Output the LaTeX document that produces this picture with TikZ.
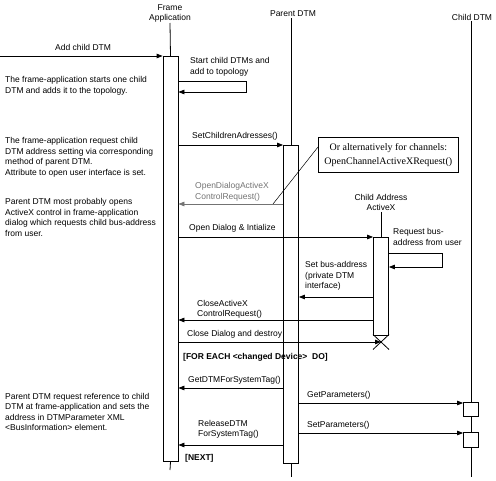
\documentclass[tikz,border=0pt]{standalone}
\usepackage{fontspec}
\setmainfont{Liberation Sans}
\newfontfamily\notefont{Liberation Serif}
\usetikzlibrary{arrows.meta}

\tikzset{
  lifeline/.style={line width=0.8pt},
  actbox/.style={draw, fill=white, line width=0.8pt, minimum width=15pt, inner sep=0pt, anchor=north},
  msg/.style={line width=0.8pt, -{Triangle[length=6pt,width=4.5pt]}},
  head/.style={font=\fontsize{8.5}{10}\selectfont, align=center, inner sep=1pt},
  lbl/.style={font=\fontsize{8.5}{10.5}\selectfont, align=left, inner sep=0pt, anchor=west},
  loopword/.style={font=\bfseries\fontsize{8.5}{10}\selectfont, inner sep=0pt, anchor=west},
  notebox/.style={draw, line width=0.6pt, font=\notefont\fontsize{10}{14.5}\selectfont, align=center,
    minimum width=140pt, minimum height=35pt, inner sep=0pt, anchor=north west}
}

\begin{document}
\begin{tikzpicture}[x=1pt,y=-1pt]
\useasboundingbox (0,0) rectangle (496,481);

% lifeline heads
\node[head] (faHead) at (170,13) {Frame\\Application};
\node[head] (pdHead) at (293,14) {Parent DTM};
\node[head] (cdHead) at (472,17) {Child DTM};
\node[head] (axHead) at (381,202.5) {Child Address\\ActiveX};

% activations
\node[actbox, minimum height=405pt] (faBox) at (170.5,56) {};
\node[actbox, minimum height=318pt] (pdBox) at (291,145) {};
\node[actbox, minimum height=98pt] (axBox) at (381,237) {};

\coordinate (faEnd) at (170,470);
\coordinate (pdEnd) at (291,477);
\coordinate (cdEnd) at (471,477);
\coordinate (start) at (0,56);

\draw[lifeline] (faHead.south -| 170,0) -- (faBox.north);
\draw[lifeline] (faBox.south) -- (faEnd);
\draw[lifeline] (pdBox.north |- pdHead.south) -- (pdBox.north);
\draw[lifeline] (pdBox.south) -- (pdEnd);
\draw[lifeline] (cdEnd |- cdHead.south) -- (cdEnd);
\draw[lifeline] (axHead.south) -- (axBox.north);
\node[actbox, minimum height=14pt] (cdBoxA) at (471,402) {};
\node[actbox, minimum height=15pt] (cdBoxB) at (471,432) {};

% destroy mark
\coordinate (axEnd) at (381,342);
\draw[line width=0.8pt] ([shift={(-8pt,-7.5pt)}]axEnd) -- ([shift={(8pt,7.5pt)}]axEnd);
\draw[line width=0.8pt] ([shift={(8pt,-7.5pt)}]axEnd) -- ([shift={(-8pt,7.5pt)}]axEnd);

% note
\node[notebox] (noteBox) at (318,137) {Or alternatively for channels:\\OpenChannelActiveXRequest()};
\coordinate (openDlgPt) at (273,204);
\draw[line width=0.5pt] ([yshift=-10pt]noteBox.north west) -- (openDlgPt);

% messages
\draw[msg] (start) -- (faBox.north west);
\draw[msg] (faBox.east |- 0,81) -- ++(68,0) -- ++(0,11) -- (faBox.east |- 0,92);
\draw[msg] (faBox.east |- 0,145) -- (pdBox.north west);
\draw[msg, draw=black!55] (pdBox.west |- 0,204) -- (faBox.east |- 0,204);
\draw[msg] (faBox.east |- 0,237) -- (axBox.north west);
\draw[msg] (axBox.east |- 0,253) -- ++(53,0) -- ++(0,14) -- (axBox.east |- 0,267);
\draw[msg] (axBox.west |- 0,297) -- (pdBox.east |- 0,297);
\draw[msg] (axBox.west |- 0,320) -- (faBox.east |- 0,320);
\draw[msg] (faBox.east |- axEnd) -- (axEnd);
\draw[msg] (pdBox.west |- 0,388) -- (faBox.east |- 0,388);
\draw[msg] (pdBox.east |- cdBoxA.north) ++(0,1) -- ([yshift=-1pt]cdBoxA.north west);
\draw[msg] (pdBox.east |- cdBoxB.north) ++(0,1) -- ([yshift=-1pt]cdBoxB.north west);
\draw[msg] (pdBox.west |- 0,445) -- (faBox.east |- 0,445);

% message labels
\node[lbl] (addLbl) at (55,47) {Add child DTM};
\node[lbl] (startLbl) at (190,67) {Start child DTMs and\\add to topology};
\node[lbl] (setLbl) at (192,136) {SetChildrenAdresses()};
\node[lbl, text=black!55] (openLbl) at (195,192) {OpenDialogActiveX\\ControlRequest()};
\node[lbl] (initLbl) at (189,228) {Open Dialog \& Intialize};
\node[lbl] (reqLbl) at (393,237) {Request bus-\\address from user};
\node[lbl] (busLbl) at (305,276) {Set bus-address\\(private DTM\\interface)};
\node[lbl] (closeLbl) at (197,309.5) {CloseActiveX\\ControlRequest()};
\node[lbl] (destroyLbl) at (187,334) {Close Dialog and destroy};
\node[loopword] (forLbl) at (183,357) {[FOR EACH <changed Device>~~DO]};
\node[lbl] (getDtmLbl) at (188,380) {GetDTMForSystemTag()};
\node[lbl] (getParLbl) at (307,395) {GetParameters()};
\node[lbl] (relLbl) at (198,429.5) {ReleaseDTM\\ForSystemTag()};
\node[lbl] (setParLbl) at (307,425) {SetParameters()};
\node[loopword] (nextLbl) at (185,458) {[NEXT]};

% comments on the left
\node[lbl] (cmtA) at (5,86) {The frame-application starts one child\\DTM and adds it to the topology.};
\node[lbl] (cmtB) at (5,157.5) {The frame-application request child\\DTM address setting via corresponding\\method of parent DTM.\\Attribute to open user interface is set.};
\node[lbl] (cmtC) at (5,217.5) {Parent DTM most probably opens\\ActiveX control in frame-application\\dialog which requests child bus-address\\from user.};
\node[lbl] (cmtD) at (5,412) {Parent DTM request reference to child\\DTM at frame-application and sets the\\address in DTMParameter XML\\<BusInformation> element.};
\end{tikzpicture}
\end{document}
